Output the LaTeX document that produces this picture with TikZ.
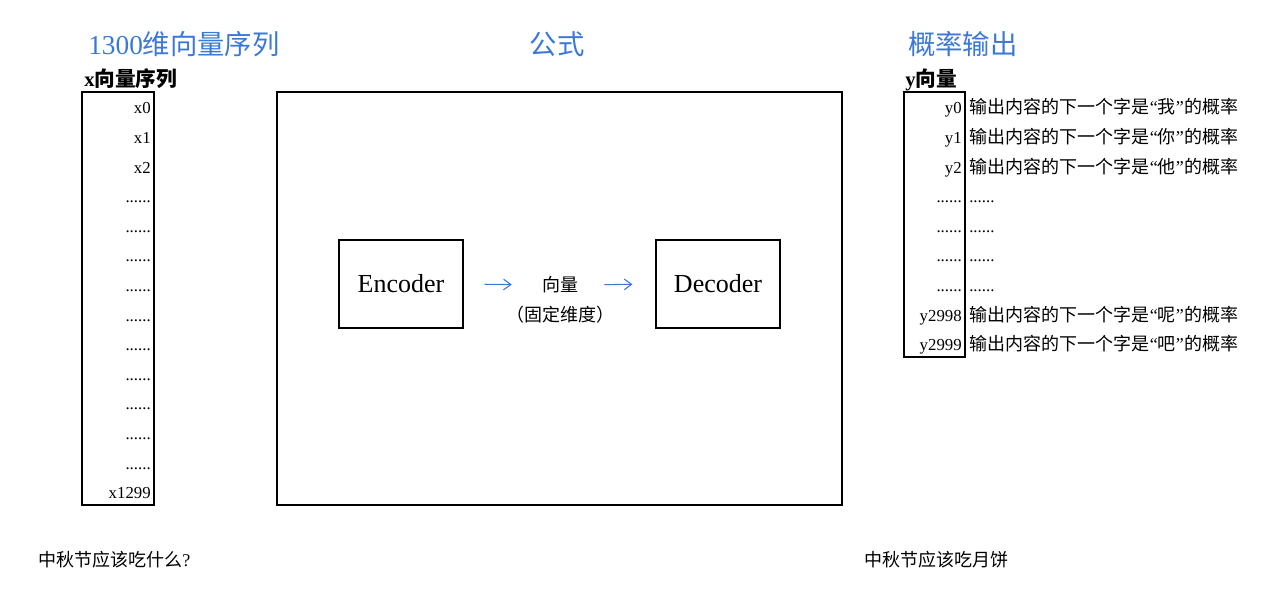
\documentclass[tikz,border=0pt]{standalone}
\usepackage{fontspec}
\setmainfont{Liberation Serif}
\newfontfamily\zhfont{Noto Sans CJK SC}
\usetikzlibrary{arrows.meta}
\definecolor{headblue}{RGB}{59,120,216}
\newcommand{\zh}[1]{{\zhfont #1}}
\newcommand{\nextchar}[1]{\zh{输出内容的下一个字是}\hspace{0.5pt}“\zh{#1}”\hspace{0.5pt}\zh{的概率}}
\tikzset{
	headline/.style={anchor=base west, inner sep=0pt, text=headblue, font=\fontsize{20.5pt}{24pt}\selectfont},
	veclabel/.style={anchor=base west, inner sep=0pt, font=\fontsize{15.5pt}{18pt}\selectfont\bfseries},
	rowlabel/.style={anchor=base east, inner sep=0pt, font=\fontsize{12.6pt}{15pt}\selectfont},
	rowtext/.style={anchor=base west, inner sep=0pt, font=\fontsize{13.5pt}{16pt}\selectfont},
	boxline/.style={line width=0.8pt},
	codebox/.style={draw, line width=0.8pt, minimum width=93pt, minimum height=66pt, font=\fontsize{19.5pt}{23pt}\selectfont},
	bluearrow/.style={draw=headblue, line width=0.8pt, -{Straight Barb[length=5.5pt, width=8pt]}}
}

\begin{document}
\begin{tikzpicture}[x=0.75pt, y=-0.75pt]
		\useasboundingbox (0,0) rectangle (1280,605);
		%%%%% START %%%%%
		
		\node[headline] (tin) at (88,55) {1300\zh{维向量序列}};
		\node[headline, anchor=base] (tmid) at (557,55) {\zh{公式}};
		\node[headline] (tout) at (908,55) {\zh{概率输出}};
		
		\node[veclabel] (xhead) at (84,87) {x\zh{\bfseries 向量序列}};
		\node[veclabel] (yhead) at (905,87) {y\zh{\bfseries 向量}};
		
		% input column
		\draw[boxline] (82,92) rectangle (154,505);
		\node[rowlabel] (x0) at (151,114) {x0};
		\node[rowlabel] (x1) at (151,143.6) {x1};
		\node[rowlabel] (x2) at (151,173.2) {x2};
		\node[rowlabel] (xd1) at (151,202.8) {......};
		\node[rowlabel] (xd2) at (151,232.4) {......};
		\node[rowlabel] (xd3) at (151,262) {......};
		\node[rowlabel] (xd4) at (151,291.6) {......};
		\node[rowlabel] (xd5) at (151,321.2) {......};
		\node[rowlabel] (xd6) at (151,350.8) {......};
		\node[rowlabel] (xd7) at (151,380.4) {......};
		\node[rowlabel] (xd8) at (151,410) {......};
		\node[rowlabel] (xd9) at (151,439.6) {......};
		\node[rowlabel] (xd10) at (151,469.2) {......};
		\node[rowlabel] (xlast) at (151,498.8) {x1299};
		
		% formula
		\draw[boxline] (277,92) rectangle (842,505);
		\node[codebox] (enc) at (401,284) {Encoder};
		\node[codebox] (dec) at (718,284) {Decoder};
		\node[inner sep=0pt, font=\fontsize{13.5pt}{16pt}\selectfont] (vec) at (560,285) {\zh{向量}};
		\node[inner sep=0pt, font=\fontsize{13.5pt}{16pt}\selectfont] (dim) at (560,315) {\zh{（固定维度）}};
		\draw[bluearrow, shorten <=15.75pt, shorten >=22.5pt] (enc.east) -- (vec.west);
		\draw[bluearrow, shorten <=19.5pt, shorten >=17.25pt] (vec.east) -- (dec.west);
		
		% output column
		\draw[boxline] (904,92) rectangle (965,357);
		\node[rowlabel] (y0) at (962,114) {y0};
		\node[rowlabel] (y1) at (962,143.6) {y1};
		\node[rowlabel] (y2) at (962,173.2) {y2};
		\node[rowlabel] (yd1) at (962,202.8) {......};
		\node[rowlabel] (yd2) at (962,232.4) {......};
		\node[rowlabel] (yd3) at (962,262) {......};
		\node[rowlabel] (yd4) at (962,291.6) {......};
		\node[rowlabel] (y2998) at (962,321.2) {y2998};
		\node[rowlabel] (y2999) at (962,350.8) {y2999};
		
		\node[rowtext] (p0) at (969,114) {\nextchar{我}};
		\node[rowtext] (p1) at (969,143.6) {\nextchar{你}};
		\node[rowtext] (p2) at (969,173.2) {\nextchar{他}};
		\node[rowlabel, anchor=base west] (pd1) at (969,202.8) {......};
		\node[rowlabel, anchor=base west] (pd2) at (969,232.4) {......};
		\node[rowlabel, anchor=base west] (pd3) at (969,262) {......};
		\node[rowlabel, anchor=base west] (pd4) at (969,291.6) {......};
		\node[rowtext] (p2998) at (969,321.2) {\nextchar{呢}};
		\node[rowtext] (p2999) at (969,350.8) {\nextchar{吧}};
		
		\node[rowtext] (ask) at (38,566) {\zh{中秋节应该吃什么}?};
		\node[rowtext] (answer) at (864,566) {\zh{中秋节应该吃月饼}};
		
		%%%%% END %%%%%
	\end{tikzpicture}
\end{document}
